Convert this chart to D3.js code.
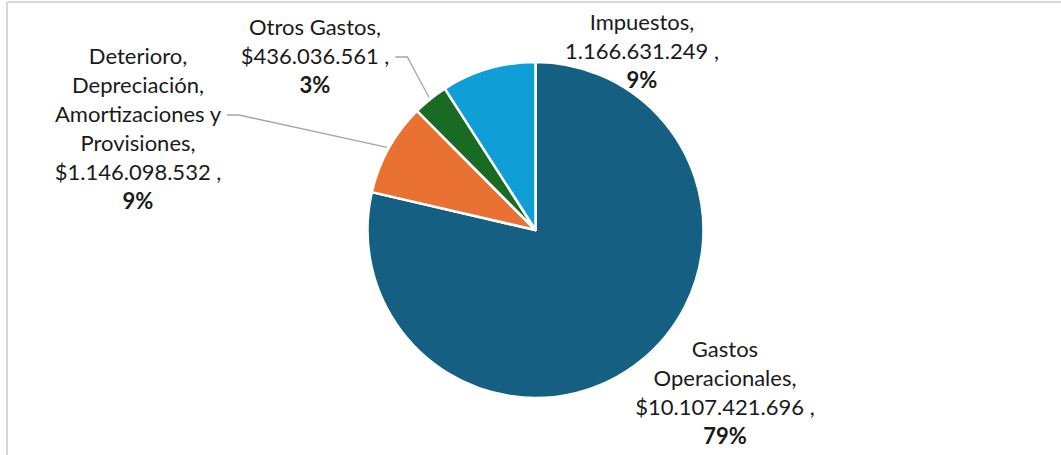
<!DOCTYPE html>
<html>
<head>
<meta charset="utf-8">
<script src="https://cdn.jsdelivr.net/npm/d3@7"></script>
<style>
  body { margin: 0; background: #fff; }
  text { font-family: Lato, "Open Sans", sans-serif; fill: #1a1a1a; }
</style>
</head>
<body>
<div id="chart"></div>
<script>
// Data (clockwise from 12 o'clock)
const categories = ['Gastos Operacionales', 'Deterioro, Depreciación, Amortizaciones y Provisiones', 'Otros Gastos', 'Impuestos'];
const values = [10107421696, 1146098532, 436036561, 1166631249];
const valueLabels = ['$10.107.421.696 ,', '$1.146.098.532 ,', '$436.036.561 ,', '1.166.631.249 ,'];
const nameLines = [
    ['Gastos', 'Operacionales,'],
    ['Deterioro,', 'Depreciación,', 'Amortizaciones y', 'Provisiones,'],
    ['Otros Gastos,'],
    ['Impuestos,']
];
const colors = ['#156082', '#E97132', '#196B24', '#0F9ED5'];

// Label anchors (centre x, first line y) and leader settings
const labelPos = [
    {x: 725, y: 357, leader: false},
    {x: 138, y: 64, leader: true, lineIdx: 2},
    {x: 315, y: 35, leader: true, lineIdx: 1},
    {x: 642, y: 30, leader: false}
];

const width = 1061;
const height = 455;
const cx = 535.5, cy = 230, radius = 168;
const lineH = 29;

const svg = d3.select('#chart')
    .append('svg')
    .attr('width', width)
    .attr('height', height);

// chart frame (only top and left edges visible)
svg.append('line').attr('x1', 7).attr('y1', 2).attr('x2', width).attr('y2', 2)
    .attr('stroke', '#d9d9d9').attr('stroke-width', 2);
svg.append('line').attr('x1', 7).attr('y1', 2).attr('x2', 7).attr('y2', height)
    .attr('stroke', '#d9d9d9').attr('stroke-width', 2);

const total = d3.sum(values);
const data = categories.map((c, i) => ({name: c, value: values[i], i}));

const pie = d3.pie().sort(null).value(d => d.value);
const arc = d3.arc().innerRadius(0).outerRadius(radius);
const arcs = pie(data);

const g = svg.append('g').attr('transform', `translate(${cx},${cy})`);

g.selectAll('path')
    .data(arcs)
    .join('path')
    .attr('d', arc)
    .attr('fill', d => colors[d.data.i])
    .attr('stroke', '#fff')
    .attr('stroke-width', 2.5)
    .attr('stroke-linejoin', 'round');

// labels
arcs.forEach(d => {
    const i = d.data.i;
    const p = labelPos[i];
    const lines = nameLines[i].concat([valueLabels[i]]);
    const pct = Math.round(d.value / total * 100) + '%';
    const t = svg.append('text')
        .attr('text-anchor', 'middle')
        .attr('font-size', 22);
    lines.forEach((l, k) => {
        t.append('tspan').attr('x', p.x).attr('y', p.y + k * lineH).text(l);
    });
    t.append('tspan').attr('x', p.x).attr('y', p.y + lines.length * lineH)
        .attr('font-weight', 'bold').text(pct);

    if (p.leader) {
        const tspan = t.selectAll('tspan').nodes()[p.lineIdx];
        const len = tspan.getComputedTextLength();
        const sx = p.x + len / 2 + 6;
        const sy = p.y + p.lineIdx * lineH - 7;
        const a = (d.startAngle + d.endAngle) / 2;
        const ex = cx + Math.sin(a) * (radius + 2);
        const ey = cy - Math.cos(a) * (radius + 2);
        svg.append('polyline')
            .attr('points', [[sx, sy], [sx + 12, sy], [ex, ey]].map(q => q.join(',')).join(' '))
            .attr('fill', 'none')
            .attr('stroke', '#a6a6a6')
            .attr('stroke-width', 1.3);
    }
});
</script>
</body>
</html>
